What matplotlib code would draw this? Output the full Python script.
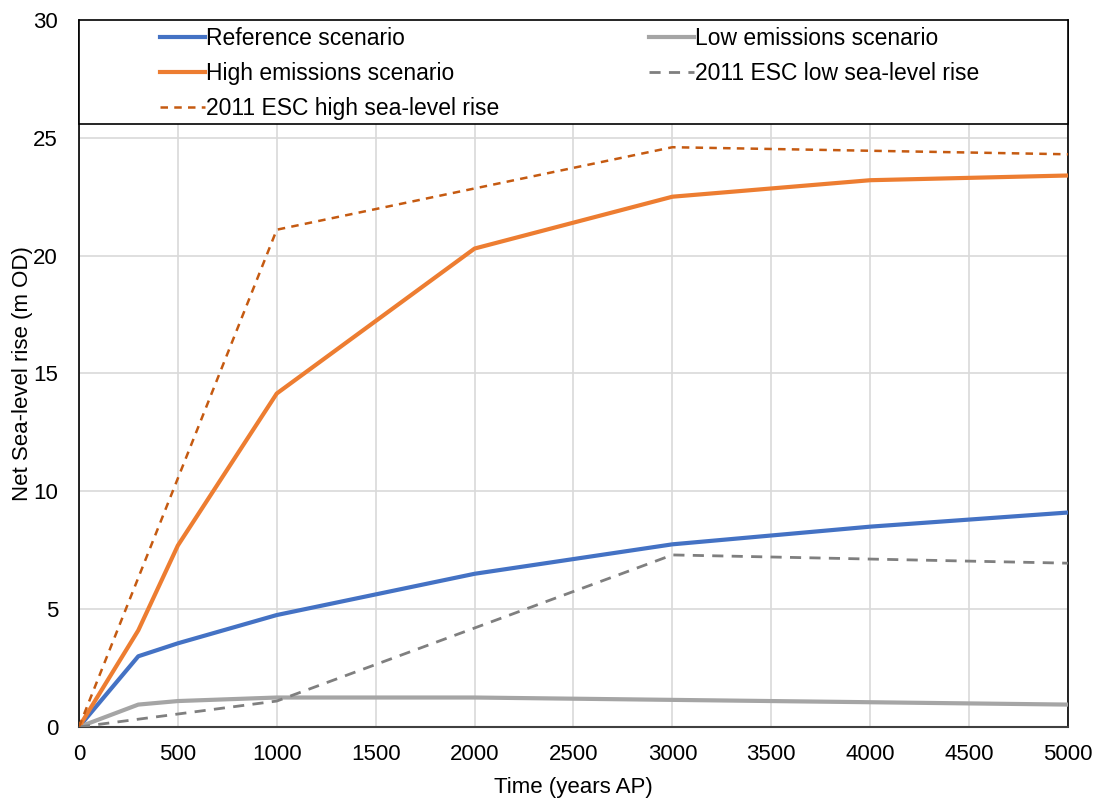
import matplotlib.pyplot as plt
from matplotlib.patches import Rectangle

# Time points (years AP)
years = [0, 300, 500, 1000, 2000, 3000, 4000, 5000]
reference = [0, 3.0, 3.55, 4.75, 6.5, 7.75, 8.5, 9.1]
high_emissions = [0, 4.1, 7.7, 14.15, 20.3, 22.5, 23.2, 23.4]
low_emissions = [0, 0.95, 1.1, 1.25, 1.25, 1.15, 1.05, 0.95]

esc_years = [0, 1000, 3000, 5000]
esc_low = [0, 1.1, 7.3, 6.95]
esc_high = [0, 21.1, 24.6, 24.3]

plt.rcParams["font.family"] = ["Liberation Sans", "DejaVu Sans"]

fig = plt.figure(figsize=(10.98, 7.98), dpi=100)
ax = fig.add_axes([0.0719, 0.089, 0.9008, 0.886])

ref_line, = ax.plot(years, reference, color="#4472C4", lw=3, zorder=3)
low_line, = ax.plot(years, low_emissions, color="#A5A5A5", lw=3, zorder=3)
high_line, = ax.plot(years, high_emissions, color="#ED7D31", lw=3, zorder=3)
esc_low_line, = ax.plot(esc_years, esc_low, color="#7F7F7F", lw=2, ls=(0, (4, 3)), zorder=3)
esc_high_line, = ax.plot(esc_years, esc_high, color="#C55A11", lw=1.8,
                         ls=(0, (3, 2.5)), zorder=3)

ax.set_xlim(0, 5000)
ax.set_ylim(0, 30)
ax.set_xticks(range(0, 5001, 500))
ax.set_yticks(range(0, 31, 5))
ax.tick_params(length=0, labelsize=16)
ax.tick_params(axis="x", pad=12)
ax.tick_params(axis="y", pad=15)
ax.grid(True, color="#D9D9D9", lw=1.2, zorder=0)
ax.set_axisbelow(True)

for side in ["left", "right"]:
    ax.spines[side].set_color("black")
    ax.spines[side].set_linewidth(1.2)
ax.spines["bottom"].set_color("#404040")
ax.spines["bottom"].set_linewidth(1.5)
ax.spines["top"].set_visible(False)

ax.set_xlabel("Time (years AP)", fontsize=16, labelpad=9)
ax.set_ylabel("Net Sea-level rise (m OD)", fontsize=16, labelpad=0)

# legend box across the top of the plot
ax.add_patch(Rectangle((0, 25.6), 5000, 4.4, facecolor="white", edgecolor="black",
                       lw=1.2, zorder=4, clip_on=False))

# matplotlib fills legend columns first
leg = ax.legend([ref_line, high_line, esc_high_line, low_line, esc_low_line],
                ["Reference scenario", "High emissions scenario",
                 "2011 ESC high sea-level rise", "Low emissions scenario",
                 "2011 ESC low sea-level rise"],
                ncol=2, loc="upper center", bbox_to_anchor=(0.496, 1.006),
                frameon=False, fontsize=16.5, handlelength=1.95, handletextpad=0.05,
                columnspacing=6.55, labelspacing=0.52, borderpad=0.0)
leg.set_zorder(5)

fig.savefig("out.png", dpi=100)
